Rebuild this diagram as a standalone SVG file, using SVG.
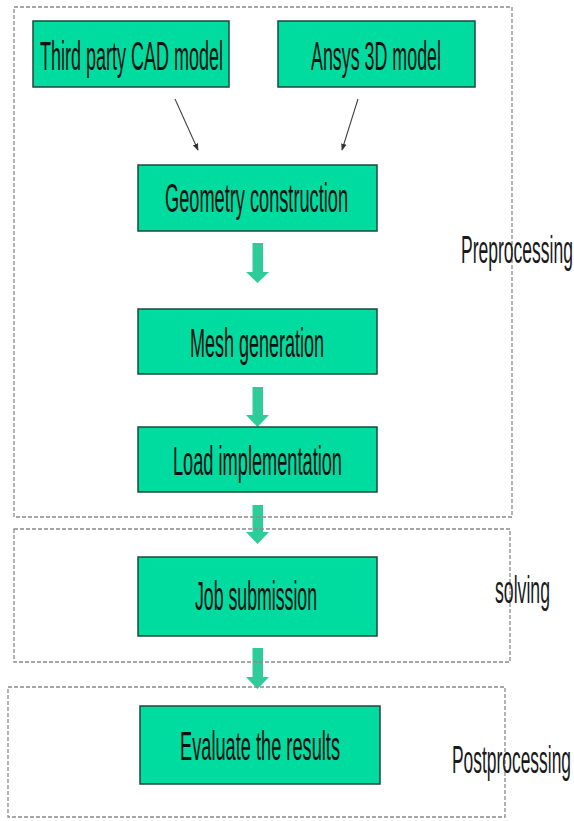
<svg xmlns="http://www.w3.org/2000/svg" width="574" height="821" viewBox="0 0 574 821">
<style>
.grp{fill:none;stroke:#8a8a8a;stroke-width:1.3;stroke-dasharray:4 2}
.box{fill:#00DBA0;stroke:#1d4a3a;stroke-width:1.5}
.t{font-family:"Liberation Sans",Arial,sans-serif;font-size:40px;fill:#111111}
.lbl{font-family:"Liberation Sans",Arial,sans-serif;font-size:39px;fill:#1a1a1a}
.garrow{fill:#2ECC99}
.thin{stroke:#444;stroke-width:1.1;fill:none}
</style>
<defs>
<marker id="ah" viewBox="0 0 10 10" refX="9" refY="5" markerWidth="7" markerHeight="7" orient="auto" markerUnits="userSpaceOnUse">
<path d="M0,1 L10,5 L0,9 z" fill="#333"/>
</marker>
</defs>
<rect width="574" height="821" fill="#ffffff"/>
<g id="connectors">
<line class="thin" x1="175" y1="99" x2="198" y2="150" marker-end="url(#ah)"/>
<line class="thin" x1="358" y1="99" x2="342" y2="150" marker-end="url(#ah)"/>
<polygon class="garrow" points="252.5,243 263,243 263,272 269,272 257.5,283 246,272 252.5,272"/>
<polygon class="garrow" points="252.5,387 263,387 263,415 269,415 257.5,427 246,415 252.5,415"/>
<polygon class="garrow" points="252.5,505 263,505 263,532 269,532 257.5,544 246,532 252.5,532"/>
<polygon class="garrow" points="252.5,648 263,648 263,677 269,677 257.5,689 246,677 252.5,677"/>
</g>
<g id="preprocessing">
<rect class="grp" x="14" y="7" width="498" height="510"/>
<text class="lbl" x="461" y="263" textLength="112" lengthAdjust="spacingAndGlyphs">Preprocessing</text>
</g>
<g id="solving">
<rect class="grp" x="14" y="529" width="496" height="133"/>
<text class="lbl" x="495" y="603" textLength="55" lengthAdjust="spacingAndGlyphs">solving</text>
</g>
<g id="postprocessing">
<rect class="grp" x="8" y="687" width="497" height="130"/>
<text class="lbl" x="452" y="773" textLength="119" lengthAdjust="spacingAndGlyphs">Postprocessing</text>
</g>
<g id="third-party">
<rect class="box" x="33" y="21" width="196" height="66"/>
<text class="t" x="40" y="70" textLength="183" lengthAdjust="spacingAndGlyphs">Third party CAD model</text>
</g>
<g id="ansys">
<rect class="box" x="278" y="21" width="197" height="66"/>
<text class="t" x="311" y="70" textLength="130" lengthAdjust="spacingAndGlyphs">Ansys 3D model</text>
</g>
<g id="geometry">
<rect class="box" x="138" y="165" width="239" height="66"/>
<text class="t" x="165" y="212" textLength="183" lengthAdjust="spacingAndGlyphs">Geometry construction</text>
</g>
<g id="mesh">
<rect class="box" x="138" y="309" width="239" height="65"/>
<text class="t" x="190" y="357" textLength="134" lengthAdjust="spacingAndGlyphs">Mesh generation</text>
</g>
<g id="load">
<rect class="box" x="138" y="427" width="239" height="65"/>
<text class="t" x="173" y="475" textLength="169" lengthAdjust="spacingAndGlyphs">Load implementation</text>
</g>
<g id="job">
<rect class="box" x="138" y="557" width="239" height="79"/>
<text class="t" x="195" y="610" textLength="122" lengthAdjust="spacingAndGlyphs">Job submission</text>
</g>
<g id="evaluate">
<rect class="box" x="140" y="706" width="240" height="78"/>
<text class="t" x="180" y="760" textLength="160" lengthAdjust="spacingAndGlyphs">Evaluate the results</text>
</g>
</svg>
